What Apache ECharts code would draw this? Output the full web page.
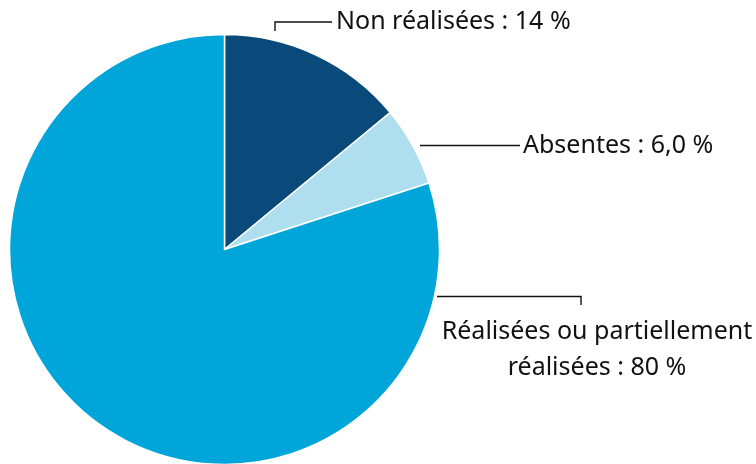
<!DOCTYPE html>
<html>
<head>
<meta charset="utf-8">
<script src="https://cdn.jsdelivr.net/npm/echarts@6/dist/echarts.min.js"></script>
<style>
  html, body { margin: 0; padding: 0; background: #fff; }
  #chart { width: 756px; height: 464px; }
</style>
</head>
<body>
<div id="chart"></div>
<script>
// Shares of measures by status (percent)
const categories = ['Non réalisées', 'Absentes', 'Réalisées ou partiellement\nréalisées'];
const values = [14, 6, 80];
const decimals = [0, 1, 0];
const colors = ['#0a4a7a', '#afdfee', '#00a5d9'];

// Label anchor and leader line per slice
const labelPlacement = [
  { x: 336, y: 22, align: 'left', line: [[275, 31], [275, 22], [332, 22]] },
  { x: 523, y: 146, align: 'left', line: [[420, 145.5], [520, 145.5]] },
  { x: 597, y: 350, align: 'center', line: [[437, 296.5], [581, 296.5], [581, 305]] }
];

function fmt(v, d) {
  return v.toFixed(d).replace('.', ',');
}

const chart = echarts.init(document.getElementById('chart'), null, { renderer: 'canvas' });
chart.setOption({
  animation: false,
  series: [{
    type: 'pie',
    center: [224.5, 249.5],
    radius: 215,
    startAngle: 90,
    clockwise: true,
    avoidLabelOverlap: false,
    itemStyle: { borderColor: '#ffffff', borderWidth: 1.5 },
    emphasis: { disabled: true },
    label: {
      show: true,
      position: 'outside',
      color: '#111',
      fontFamily: 'Noto Sans',
      fontSize: 25,
      lineHeight: 36,
      formatter: p => p.name + ' : ' + fmt(p.value, decimals[p.dataIndex]) + ' %'
    },
    labelLine: {
      show: true,
      lineStyle: { color: '#111', width: 1.4 }
    },
    labelLayout: p => {
      const L = labelPlacement[p.dataIndex];
      return {
        x: L.x,
        y: L.y,
        align: L.align,
        verticalAlign: 'middle',
        labelLinePoints: L.line
      };
    },
    data: categories.map((c, i) => ({
      name: c,
      value: values[i],
      itemStyle: { color: colors[i] },
      label: { align: labelPlacement[i].align }
    }))
  }]
});
</script>
</body>
</html>
